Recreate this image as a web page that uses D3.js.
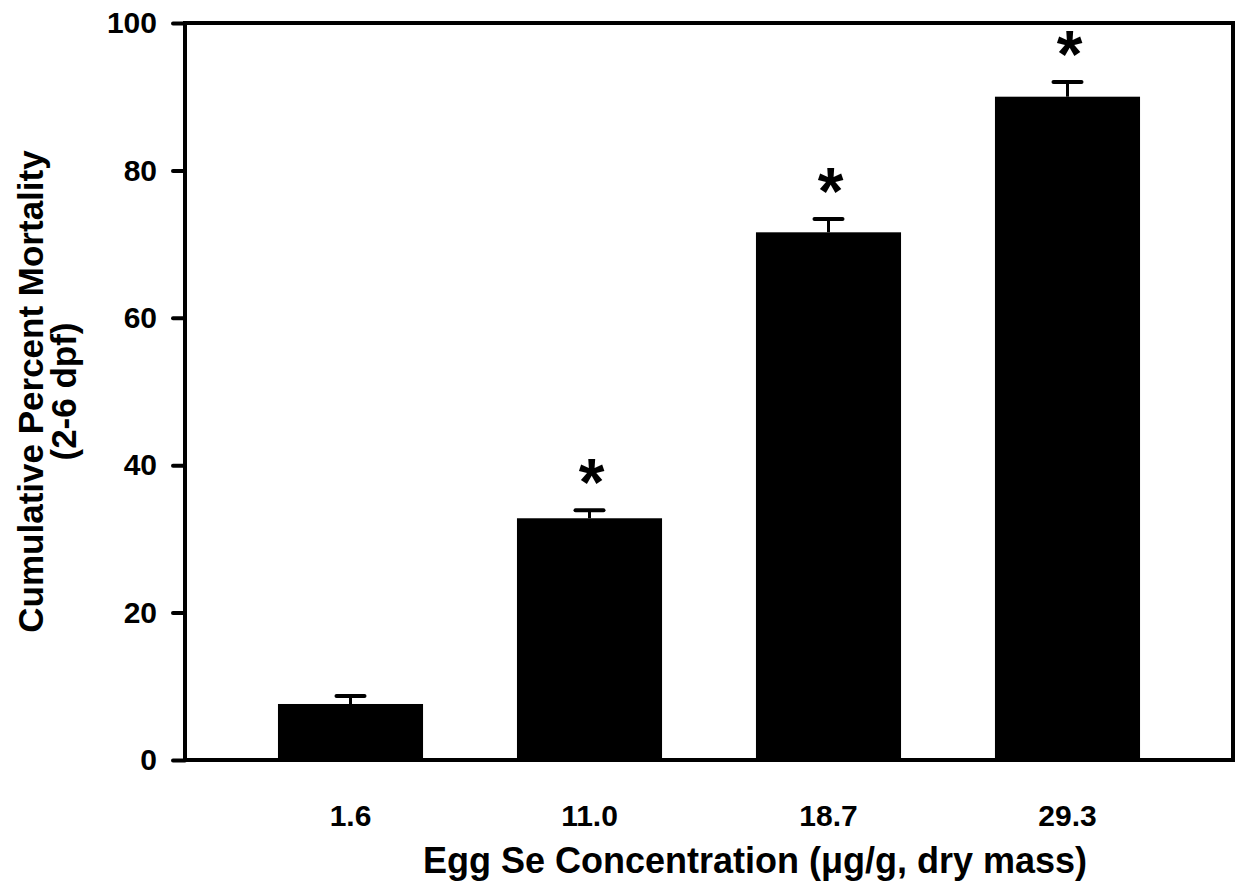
<!DOCTYPE html>
<html>
<head>
<meta charset="utf-8">
<script src="https://cdn.jsdelivr.net/npm/d3@7"></script>
<style>
  body { margin: 0; background: #fff; }
  text { font-family: "Liberation Sans", Arial, sans-serif; font-weight: bold; fill: #000; }
</style>
</head>
<body>
<div id="chart"></div>
<script>
    var width = 1238, height = 884;

    // values
    var concentrations = ['1.6', '11.0', '18.7', '29.3'];
    var mortality = [7.6, 32.8, 71.6, 90.0];
    var errUpper = [8.7, 33.9, 73.4, 92.0];
    var significant = [false, true, true, true];
    var yTicks = [0, 20, 40, 60, 80, 100];

    var margin = {left: 185, right: 5, top: 23, bottom: 124};

    var svg = d3.select('#chart')
        .append('svg')
        .attr('width', width)
        .attr('height', height);

    var x = d3.scaleBand()
        .domain(concentrations)
        .range([margin.left, width - margin.right])
        .paddingInner(0.393)
        .paddingOuter(0.389);

    var y = d3.scaleLinear()
        .domain([0, 100])
        .range([height - margin.bottom, margin.top]);

    var data = concentrations.map(function(c, i){
        return {conc: c, val: mortality[i], hi: errUpper[i], sig: significant[i]};
    });

    // error bars drawn first so bars cover the stem base
    var eb = svg.append('g');
    eb.selectAll('line.stem')
        .data(data)
        .enter().append('line')
        .attr('x1', function(d){ return x(d.conc) + x.bandwidth()/2; })
        .attr('x2', function(d){ return x(d.conc) + x.bandwidth()/2; })
        .attr('y1', function(d){ return y(d.val); })
        .attr('y2', function(d){ return y(d.hi); })
        .attr('stroke', '#000')
        .attr('stroke-width', 3);
    eb.selectAll('line.cap')
        .data(data)
        .enter().append('line')
        .attr('x1', function(d){ return x(d.conc) + x.bandwidth()/2 - 14; })
        .attr('x2', function(d){ return x(d.conc) + x.bandwidth()/2 + 14; })
        .attr('y1', function(d){ return y(d.hi); })
        .attr('y2', function(d){ return y(d.hi); })
        .attr('stroke', '#000')
        .attr('stroke-width', 4)
        .attr('stroke-linecap', 'round');

    svg.selectAll('rect.bar')
        .data(data)
        .enter().append('rect')
        .attr('x', function(d){ return x(d.conc); })
        .attr('y', function(d){ return y(d.val); })
        .attr('width', x.bandwidth())
        .attr('height', function(d){ return y(0) - y(d.val); })
        .attr('fill', '#000');

    svg.selectAll('text.star')
        .data(data.filter(function(d){ return d.sig; }))
        .enter().append('text')
        .attr('x', function(d){ return x(d.conc) + x.bandwidth()/2 + 2; })
        .attr('y', function(d){ return y(d.hi) - 5; })
        .attr('text-anchor', 'middle')
        .style('font-size', '66px')
        .text('*');

    // frame
    svg.append('rect')
        .attr('x', margin.left)
        .attr('y', margin.top)
        .attr('width', width - margin.right - margin.left)
        .attr('height', y(0) - margin.top)
        .attr('fill', 'none')
        .attr('stroke', '#000')
        .attr('stroke-width', 4);

    // y axis
    var yAxis = svg.append('g')
        .attr('transform', 'translate(' + margin.left + ',0)')
        .call(d3.axisLeft(y).tickValues(yTicks).tickSize(12).tickPadding(16));
    yAxis.select('.domain').remove();
    yAxis.selectAll('.tick line').attr('stroke-width', 4).attr('stroke-linecap', 'round');
    yAxis.selectAll('.tick text').style('font-size', '30px').style('font-family', '"Liberation Sans", Arial, sans-serif');

    // x axis labels
    var xAxis = svg.append('g')
        .attr('transform', 'translate(0,' + y(0) + ')')
        .call(d3.axisBottom(x).tickSize(0).tickPadding(45));
    xAxis.select('.domain').remove();
    xAxis.selectAll('.tick text').style('font-size', '30px').style('font-family', '"Liberation Sans", Arial, sans-serif');

    svg.append('text')
        .attr('x', 755)
        .attr('y', 873)
        .attr('text-anchor', 'middle')
        .style('font-size', '36px')
        .text('Egg Se Concentration (\u03bcg/g, dry mass)');

    var yt = svg.append('text')
        .attr('transform', 'translate(0,' + ((margin.top + y(0)) / 2) + ') rotate(-90)')
        .attr('text-anchor', 'middle')
        .style('font-size', '35px');
    yt.append('tspan').attr('x', 0).attr('y', 43).text('Cumulative Percent Mortality');
    yt.append('tspan').attr('x', 0).attr('y', 76).text('(2-6 dpf)');
</script>
</body>
</html>
